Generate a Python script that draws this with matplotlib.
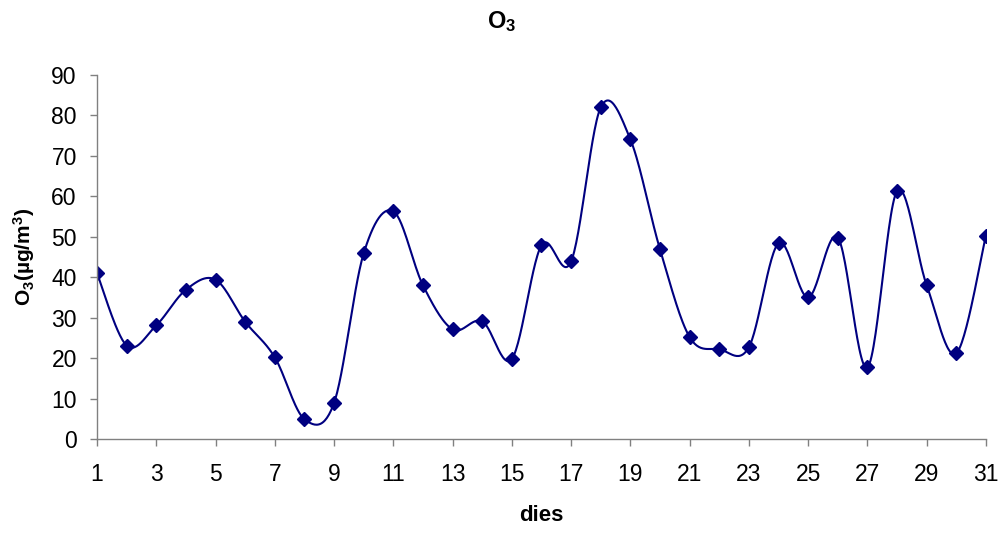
import numpy as np
import matplotlib
matplotlib.use("Agg")
import matplotlib.pyplot as plt

plt.rcParams['font.family'] = ['Liberation Sans', 'DejaVu Sans']
plt.rcParams['mathtext.fontset'] = 'custom'
plt.rcParams['mathtext.rm'] = 'Liberation Sans:bold'
plt.rcParams['mathtext.bf'] = 'Liberation Sans:bold'
plt.rcParams['mathtext.default'] = 'bf'

# daily O3 values (ug/m3)
days = list(range(1, 32))
o3 = [41.0, 23.1, 28.1, 36.9, 39.4, 29.0, 20.2, 4.9, 8.9, 45.9,
      56.3, 38.0, 27.1, 29.1, 19.8, 47.9, 43.9, 82.0, 74.1, 46.9,
      25.2, 22.2, 22.7, 48.4, 35.0, 49.8, 17.7, 61.3, 38.0, 21.2, 50.3]

xticks = list(range(1, 32, 2))
yticks = list(range(0, 91, 10))

LINE = '#000080'
GREY = '#808080'


def smooth_curve(x, y, n=30):
    # bezier through the points, like the "smoothed line" option in a spreadsheet
    p = np.column_stack([x, y]).astype(float)
    pp = np.vstack([p[0], p, p[-1]])
    t = np.linspace(0, 1, n)[:, None]
    out = []
    for i in range(len(p) - 1):
        p0, p3 = pp[i + 1], pp[i + 2]
        c1 = p0 + (pp[i + 2] - pp[i]) / 6
        c2 = p3 - (pp[i + 3] - pp[i + 1]) / 6
        seg = ((1 - t) ** 3) * p0 + 3 * ((1 - t) ** 2) * t * c1 + 3 * (1 - t) * t ** 2 * c2 + t ** 3 * p3
        out.append(seg if i == 0 else seg[1:])
    s = np.vstack(out)
    return s[:, 0], s[:, 1]


fig = plt.figure(figsize=(10.03, 5.36), dpi=100)
ax = fig.add_axes([0.0967, 0.181, 0.8863, 0.679])

sx, sy = smooth_curve(days, o3)
ax.plot(sx, sy, color=LINE, lw=1.5)
ax.plot(days, o3, linestyle='none', marker='D', ms=7.5, color=LINE)

ax.set_xlim(1, 31)
ax.set_ylim(0, 90)
ax.set_xticks(xticks)
ax.set_yticks(yticks)
ax.tick_params(axis='both', labelsize=16.5, color=GREY, length=5, width=1)
ax.tick_params(axis='x', pad=12)
ax.tick_params(axis='y', pad=9.5)
for side in ['top', 'right']:
    ax.spines[side].set_visible(False)
for side in ['left', 'bottom']:
    ax.spines[side].set_color(GREY)
    ax.spines[side].set_linewidth(1)

ax.set_xlabel('dies', fontsize=16, fontweight='bold', labelpad=14)
ax.set_ylabel('O$_3$(µg/m$^3$)', fontsize=15, fontweight='bold', labelpad=10.5)
fig.text(0.5, 0.96, 'O$_3$', fontsize=17, fontweight='bold', ha='center', va='center')

fig.savefig('out.png', dpi=100)
